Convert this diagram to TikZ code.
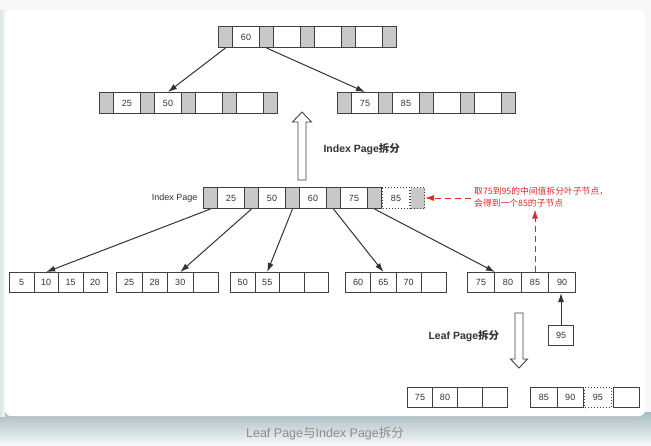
\documentclass[tikz,border=0pt]{standalone}
\usepackage{fontspec}
\setmainfont{Liberation Sans}
\newfontfamily\cjk{Noto Sans CJK SC}
\usetikzlibrary{arrows.meta,positioning}

\definecolor{cellgray}{RGB}{200,200,200}
\definecolor{linegray}{RGB}{65,65,65}
\definecolor{notered}{RGB}{222,40,40}
\definecolor{bgcard}{RGB}{245,247,248}
\definecolor{shadetop}{RGB}{168,188,193}
\definecolor{captiongray}{RGB}{140,140,140}

\tikzset{
	cell/.style={draw=linegray,line width=1pt,inner sep=0pt,anchor=north west,minimum height=21pt,font=\fontsize{9}{10}\selectfont,text=black!80},
	gcell/.style={cell,fill=cellgray,minimum width=14pt},
	wcell/.style={cell,fill=white,minimum width=27pt},
	dotcell/.style={dotted,line width=1pt},
	arr/.style={draw=black!80,line width=1pt,-{Latex[length=9pt,width=6pt]}},
	redarr/.style={draw=notered,line width=1pt,dash pattern=on 6pt off 4pt,-{Latex[length=9pt,width=6pt]}},
	hollow/.style={draw=linegray,line width=0.9pt,fill=white},
}

% index page: name, x, y, keys
\newcommand{\indexpage}[4]{%
	\foreach \k [count=\i from 0] in {#4}
	{
		\node[gcell] (#1-g\i) at ({#2+41*\i},#3) {};
		\node[wcell] (#1-w\i) at ({#2+41*\i+14},#3) {\k};
	}
	\node[gcell] (#1-g4) at ({#2+164},#3) {};
}
% leaf page: name, x, y, cell width, keys
\newcommand{\leafpage}[5]{%
	\foreach \k [count=\i from 0] in {#5}
	{
		\node[cell,fill=white,minimum width=#4pt,minimum height=20pt] (#1-c\i) at ({#2+#4*\i},#3) {\k};
	}
}

\begin{document}
\begin{tikzpicture}[x=1pt,y=-1pt]
	\useasboundingbox (0,0) rectangle (651,445);
	
	\fill[bgcard] (0,0) rectangle (651,445);
	\shade[top color=shadetop,bottom color=bgcard] (0,412) rectangle (651,445);
	\shade[left color=shadetop!40,right color=bgcard] (0,10) rectangle (5,416);
	\fill[white,rounded corners=6pt] (5,10) rectangle (645,416);
	
	% upper level
	\indexpage{top}{218}{26}{60,{},{},{}}
	\indexpage{left}{99}{92}{25,50,{},{}}
	\indexpage{right}{337}{92}{75,85,{},{}}
	\draw[arr] (top-g0.south) -- (left-w1.north);
	\draw[arr] (top-g1.south) -- (right-w0.north);
	
	\draw[hollow] (298,180) -- (298,122) -- (292.5,122) -- (302,112) -- (311.5,122) -- (306,122) -- (306,180) -- cycle;
	\node[anchor=west,font=\bfseries\fontsize{10.5}{12}\selectfont,text=black!80] (idxsplit) at (320,149) {Index Page{\cjk 拆分}};
	
	% index page
	\indexpage{idx}{203}{187}{25,50,60,75}
	\node[wcell,dotcell] (idx-dw) at (idx-g4.north east) {85};
	\node[gcell,dotcell] (idx-dg) at (idx-dw.north east) {};
	\node[left=2pt of idx-g0,font=\fontsize{9}{10}\selectfont,text=black!80] (idxlabel) {Index Page};
	
	\node[anchor=north west,align=left,text=notered,font=\cjk\fontsize{8.8}{12}\selectfont,inner sep=1pt] (note) at (473,186) {取75到95的中间值拆分叶子节点，\\会得到一个85的子节点};
	
	% leaf pages
	\leafpage{l1}{9}{272}{24.5}{5,10,15,20}
	\leafpage{l2}{116}{272}{25.5}{25,28,30,{}}
	\leafpage{l3}{230}{272}{24.5}{50,55,{},{}}
	\leafpage{l4}{345}{272}{25.25}{60,65,70,{}}
	\leafpage{l5}{467}{272}{27}{75,80,85,90}
	
	\foreach \s/\t in {g0/l1-c1.north,g1/l2-c2.north,g2/l3-c1.north,g3/l4-c1.north,g4/l5-c0.north east}
	{
		\draw[arr] (idx-\s.south) -- (\t);
	}
	
	\draw[redarr] ([xshift=-2pt]note.west |- idx-dg.east) -- (idx-dg.east);
	\draw[redarr] (l5-c2.north) -- ([yshift=-1pt]l5-c2.north |- note.south);
	
	\node[cell,fill=white,minimum width=25pt,minimum height=20pt] (n95) at (548,325) {95};
	\draw[arr] (n95.north) -- (n95.north |- l5-c3.south);
	
	% leaf page split
	\draw[hollow] (515,313) -- (515,359) -- (510.5,359) -- (519,368) -- (527.5,359) -- (523,359) -- (523,313) -- cycle;
	\node[anchor=west,font=\bfseries\fontsize{10.5}{12}\selectfont,text=black!80] (leafsplit) at (425,336) {Leaf Page{\cjk 拆分}};
	
	\leafpage{b1}{407}{387}{25}{75,80,{},{}}
	\leafpage{b2}{530}{387}{26.5}{85,90}
	\node[cell,dotcell,fill=white,minimum width=26.5pt,minimum height=20pt] (b2-dot) at (b2-c1.north east) {95};
	\node[cell,fill=white,minimum width=26pt,minimum height=20pt] (b2-c3) at ([xshift=1.5pt]b2-dot.north east) {};
	
	\node[font=\fontsize{12.5}{14}\selectfont,text=captiongray] (caption) at (325,434) {Leaf Page{\cjk 与}Index Page{\cjk 拆分}};
\end{tikzpicture}
\end{document}
